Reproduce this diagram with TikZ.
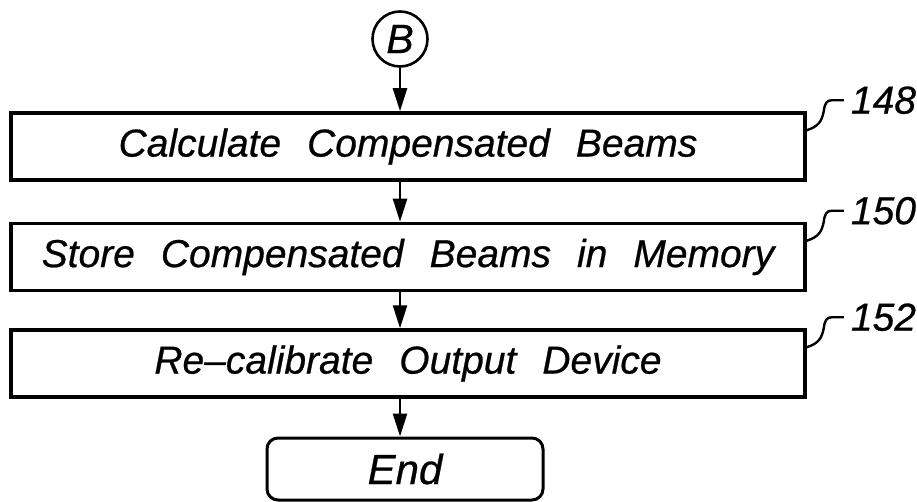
\documentclass[tikz,border=0pt]{standalone}
\usepackage{fontspec}
\setmainfont{Liberation Sans}[ItalicFeatures={FakeBold=0.6}]
\usetikzlibrary{arrows.meta,calc}
\begin{document}
\begin{tikzpicture}[x=1pt,y=-1pt,
  lbl/.style={font={\fontsize{39}{41}\selectfont\itshape\spaceskip=26pt plus 2pt}},
  stepbox/.style={draw,line width=3.5pt,minimum width=794pt,minimum height=67pt,inner sep=0pt,lbl},
  endbox/.style={draw,line width=3pt,rounded corners=11pt,minimum width=276pt,minimum height=62pt,inner sep=0pt,font={\fontsize{42}{44}\selectfont\itshape}},
  conn/.style={draw,circle,line width=2.6pt,minimum size=55pt,inner sep=0pt,font={\fontsize{41}{43}\selectfont\itshape}},
  flow/.style={line width=2.4pt,-{Triangle[length=23pt,width=14pt]}},
  leader/.style={line width=2.4pt},
  num/.style={font={\fontsize{39}{41}\selectfont\itshape},anchor=west,inner sep=0pt}]
\useasboundingbox (0,0) rectangle (917,502);
\node[conn] (B) at (400,39) {B};
\node[stepbox] (s1) at (408,146.5) {Calculate Compensated Beams};
\node[stepbox] (s2) at (408,257) {Store Compensated Beams in Memory};
\node[stepbox] (s3) at (408,363.5) {Re–calibrate Output Device};
\node[endbox] (e) at (405,469) {End};
\draw[flow] (B.south) -- (B.south |- s1.north);
\draw[flow] (B.south |- s1.south) -- (B.south |- s2.north);
\draw[flow] (B.south |- s2.south) -- (B.south |- s3.north);
\draw[flow] (B.south |- s3.south) -- (B.south |- e.north);
\foreach \s/\n in {s1/148,s2/150,s3/152}{
  \coordinate (a\s) at ($(\s.north east)+(0,19)$);
  \coordinate (m\s) at ($(\s.north east)+(17,0)$);
  \coordinate (b\s) at ($(\s.north east)+(25,-11)$);
  \coordinate (c\s) at ($(\s.north east)+(37,-11)$);
  \node[num] (n\s) at ($(c\s)+(7,0)$) {\n};
  \draw[leader] (a\s) .. controls ($(a\s)+(12,-4)$) and ($(m\s)+(-2,10)$) .. (m\s)
     .. controls ($(m\s)+(1,-8)$) and ($(b\s)+(-5,0)$) .. (b\s) -- (c\s);
}
\end{tikzpicture}
\end{document}
